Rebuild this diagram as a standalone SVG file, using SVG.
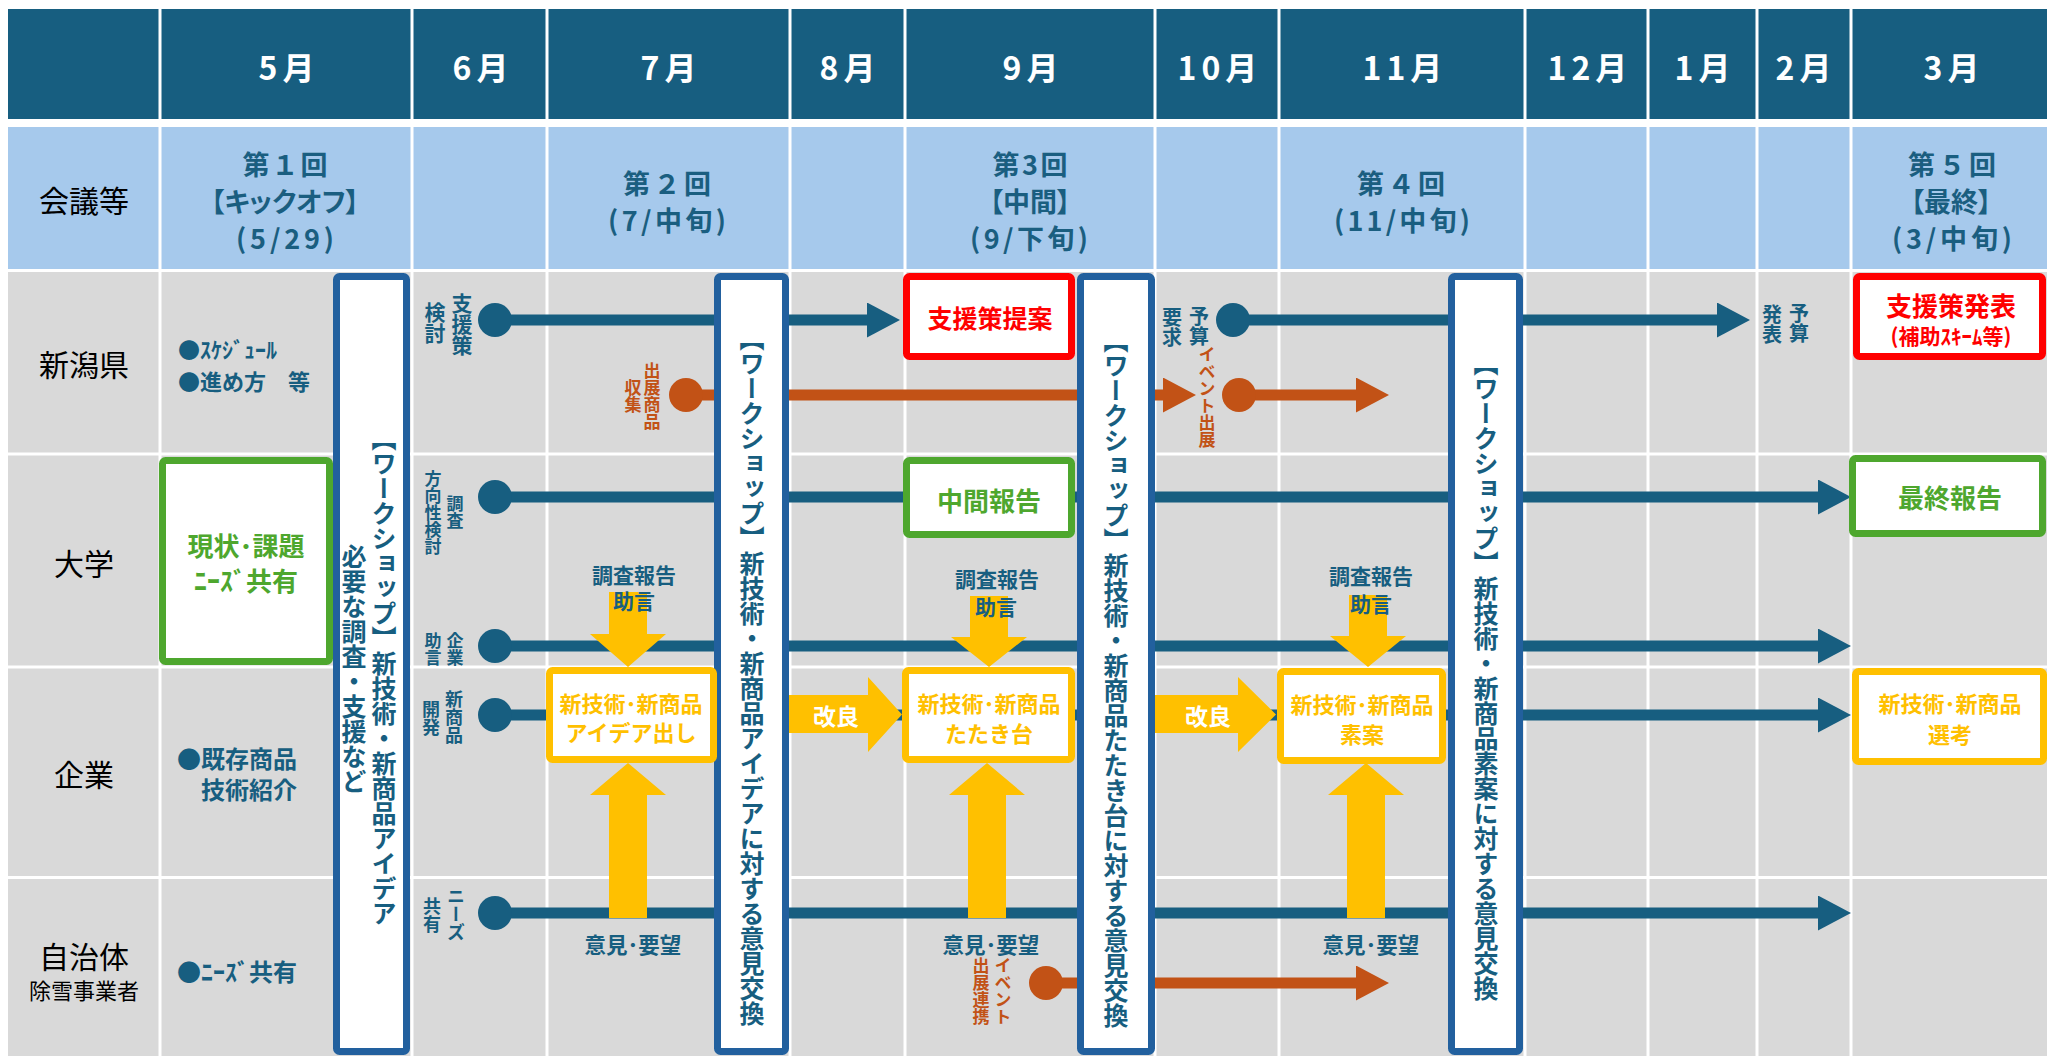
<svg xmlns="http://www.w3.org/2000/svg" width="2047" height="1056" viewBox="0 0 2047 1056">
<style>
.t{font-family:"Noto Sans CJK JP","Noto Sans CJK SC",sans-serif;dominant-baseline:central;text-anchor:middle}
.st{text-anchor:start}
.b{font-weight:700}
.pa{font-feature-settings:"palt" 1}
.mon{fill:#fff;font-size:32px;font-weight:700;letter-spacing:5px}
.conf{fill:#1A5E80;font-size:27px;font-weight:700}
.lab{fill:#000;font-size:30px;font-weight:400}
.tx{fill:#175E80}
.ox{fill:#C25216}
.v{writing-mode:vertical-rl}
.ws{fill:#fff;stroke:#22609E;stroke-width:7}
.wst{fill:#175E80;font-size:25px;font-weight:700}
.red{fill:#fff;stroke:#FF0000;stroke-width:7}
.grn{fill:#fff;stroke:#4EA72E;stroke-width:7}
.ylw{fill:#fff;stroke:#FFC000;stroke-width:7}
.tl{stroke:#175E80;stroke-width:11;fill:none}
.ol{stroke:#C25216;stroke-width:11;fill:none}
.yf{fill:#FFC000}
.gl{stroke:#fff;stroke-width:3}
</style>
<defs>
<marker id="ahT" markerUnits="userSpaceOnUse" markerWidth="33" markerHeight="35" viewBox="0 0 33 35" refX="0" refY="17.5" orient="auto"><path d="M0,0 L33,17.5 L0,35 z" fill="#175E80"/></marker>
<marker id="ahO" markerUnits="userSpaceOnUse" markerWidth="33" markerHeight="35" viewBox="0 0 33 35" refX="0" refY="17.5" orient="auto"><path d="M0,0 L33,17.5 L0,35 z" fill="#C25216"/></marker>
<marker id="dotT" markerUnits="userSpaceOnUse" markerWidth="36" markerHeight="36" viewBox="0 0 36 36" refX="18" refY="18"><circle cx="18" cy="18" r="17" fill="#175E80"/></marker>
<marker id="dotO" markerUnits="userSpaceOnUse" markerWidth="36" markerHeight="36" viewBox="0 0 36 36" refX="18" refY="18"><circle cx="18" cy="18" r="17" fill="#C25216"/></marker>
</defs>
<rect width="2047" height="1056" fill="#fff"/>
<g id="grid">
<rect x="8" y="9" width="2039" height="110" fill="#175E80"/>
<rect x="8" y="127" width="2039" height="142" fill="#A6C9EC"/>
<rect x="8" y="272" width="2039" height="784" fill="#D9D9D9"/>
<line class="gl" x1="8" y1="454" x2="2047" y2="454"/>
<line class="gl" x1="8" y1="667" x2="2047" y2="667"/>
<line class="gl" x1="8" y1="877.5" x2="2047" y2="877.5"/>
<line class="gl" x1="8" y1="270.5" x2="2047" y2="270.5"/>
<g class="gl">
<line x1="160" y1="9" x2="160" y2="1056"/><line x1="412" y1="9" x2="412" y2="1056"/><line x1="547" y1="9" x2="547" y2="1056"/><line x1="790" y1="9" x2="790" y2="1056"/><line x1="905" y1="9" x2="905" y2="1056"/><line x1="1155" y1="9" x2="1155" y2="1056"/><line x1="1279" y1="9" x2="1279" y2="1056"/><line x1="1525" y1="9" x2="1525" y2="1056"/><line x1="1648" y1="9" x2="1648" y2="1056"/><line x1="1757" y1="9" x2="1757" y2="1056"/><line x1="1851" y1="9" x2="1851" y2="1056"/>
</g>
</g>
<g id="header">
<text class="t mon" x="289" y="66">5月</text>
<text class="t mon" x="483" y="66">6月</text>
<text class="t mon" x="671" y="66">7月</text>
<text class="t mon" x="850" y="66">8月</text>
<text class="t mon" x="1033" y="66">9月</text>
<text class="t mon" x="1220" y="66">10月</text>
<text class="t mon" x="1405" y="66">11月</text>
<text class="t mon" x="1590" y="66">12月</text>
<text class="t mon" x="1705" y="66">1月</text>
<text class="t mon" x="1806" y="66">2月</text>
<text class="t mon" x="1954" y="66">3月</text>
</g>
<g id="meetings">
<text class="t conf" x="285" y="163" textLength="85" lengthAdjust="spacing">第１回</text>
<text class="t conf pa" x="285" y="200">【キックオフ】</text>
<text class="t conf" x="285" y="237" textLength="98" lengthAdjust="spacing">(5/29)</text>
<text class="t conf" x="667" y="182" textLength="88" lengthAdjust="spacing">第２回</text>
<text class="t conf" x="667" y="219" textLength="118" lengthAdjust="spacing">(7/中旬)</text>
<text class="t conf" x="1030" y="163" textLength="75" lengthAdjust="spacing">第3回</text>
<text class="t conf pa" x="1030" y="200">【中間】</text>
<text class="t conf" x="1029" y="237" textLength="118" lengthAdjust="spacing">(9/下旬)</text>
<text class="t conf" x="1401" y="182" textLength="88" lengthAdjust="spacing">第４回</text>
<text class="t conf" x="1402" y="219" textLength="136" lengthAdjust="spacing">(11/中旬)</text>
<text class="t conf" x="1952" y="163" textLength="88" lengthAdjust="spacing">第５回</text>
<text class="t conf pa" x="1951" y="200">【最終】</text>
<text class="t conf" x="1952" y="237" textLength="120" lengthAdjust="spacing">(3/中旬)</text>
</g>
<g id="row-labels">
<text class="t lab" x="84" y="199">会議等</text>
<text class="t lab" x="84" y="363">新潟県</text>
<text class="t lab" x="84" y="562">大学</text>
<text class="t lab" x="84" y="773">企業</text>
<text class="t lab" x="84" y="955">自治体</text>
<text class="t lab" x="84" y="989" style="font-size:22px">除雪事業者</text>
</g>
<g id="may-notes" class="tx">
<text class="t st b" x="178" y="348" style="font-size:22px">●ｽｹｼﾞｭｰﾙ</text>
<text class="t st b" x="178" y="380" style="font-size:22px">●進め方　等</text>
<text class="t st b" x="177" y="757" style="font-size:24px">●既存商品</text>
<text class="t st b" x="201" y="788" style="font-size:24px">技術紹介</text>
<text class="t st b" x="177" y="970" style="font-size:24px">●ﾆｰｽﾞ共有</text>
</g>
<g id="connectors">
<line class="tl" x1="495" y1="320" x2="867" y2="320" marker-start="url(#dotT)" marker-end="url(#ahT)"/>
<line class="tl" x1="1233" y1="320" x2="1717" y2="320" marker-start="url(#dotT)" marker-end="url(#ahT)"/>
<line class="tl" x1="495" y1="497" x2="1818" y2="497" marker-start="url(#dotT)" marker-end="url(#ahT)"/>
<line class="tl" x1="495" y1="646" x2="1818" y2="646" marker-start="url(#dotT)" marker-end="url(#ahT)"/>
<line class="tl" x1="495" y1="715" x2="1818" y2="715" marker-start="url(#dotT)" marker-end="url(#ahT)"/>
<line class="tl" x1="495" y1="913" x2="1818" y2="913" marker-start="url(#dotT)" marker-end="url(#ahT)"/>
<line class="ol" x1="686" y1="395" x2="1163" y2="395" marker-start="url(#dotO)" marker-end="url(#ahO)"/>
<line class="ol" x1="1239" y1="395" x2="1356" y2="395" marker-start="url(#dotO)" marker-end="url(#ahO)"/>
<line class="ol" x1="1046" y1="983" x2="1356" y2="983" marker-start="url(#dotO)" marker-end="url(#ahO)"/>
<g class="yf">
<polygon points="609,592 647,592 647,634 666,634 628,667 590,634 609,634"/>
<polygon points="970,596 1008,596 1008,637 1027,637 989,667 951,637 970,637"/>
<polygon points="1349,595 1387,595 1387,636 1406,636 1368,667 1330,636 1349,636"/>
<polygon points="609,918 647,918 647,795 666,795 628,763 590,795 609,795"/>
<polygon points="968,918 1006,918 1006,795 1025,795 987,763 949,795 968,795"/>
<polygon points="1347,918 1385,918 1385,795 1404,795 1366,763 1328,795 1347,795"/>
<polygon points="786,695 868,695 868,677 902,714.5 868,752 868,733 786,733"/>
<polygon points="1152,695 1238,695 1238,677 1276,714.5 1238,752 1238,733 1152,733"/>
</g>
</g>
<g id="connector-labels">
<g class="tx b">
<text class="t v" x="462" y="324" style="font-size:21px">支援策</text>
<text class="t v" x="435" y="323" style="font-size:21px">検討</text>
<text class="t v" x="1199" y="326" style="font-size:20px">予算</text>
<text class="t v" x="1172" y="327" style="font-size:20px">要求</text>
<text class="t v" x="1799" y="323" style="font-size:20px">予算</text>
<text class="t v" x="1772" y="324" style="font-size:20px">発表</text>
<text class="t v" x="455" y="512" style="font-size:17px">調査</text>
<text class="t v" x="433" y="513" style="font-size:17px">方向性検討</text>
<text class="t v" x="455" y="649" style="font-size:17px">企業</text>
<text class="t v" x="433" y="649" style="font-size:17px">助言</text>
<text class="t v" x="454" y="717" style="font-size:18px">新商品</text>
<text class="t v" x="431" y="718" style="font-size:18px">開発</text>
<text class="t v" x="456" y="914" style="font-size:18px">ニーズ</text>
<text class="t v" x="432" y="915" style="font-size:18px">共有</text>
<text class="t" x="634" y="574" style="font-size:21px">調査報告</text>
<text class="t" x="634" y="600" style="font-size:21px">助言</text>
<text class="t" x="997" y="578" style="font-size:21px">調査報告</text>
<text class="t" x="996" y="606" style="font-size:21px">助言</text>
<text class="t" x="1371" y="575" style="font-size:21px">調査報告</text>
<text class="t" x="1371" y="603" style="font-size:21px">助言</text>
<text class="t" x="633" y="943" style="font-size:21.5px">意見･要望</text>
<text class="t" x="991" y="943" style="font-size:21.5px">意見･要望</text>
<text class="t" x="1371" y="943" style="font-size:21.5px">意見･要望</text>
</g>
<g class="ox b">
<text class="t v" x="652" y="396" style="font-size:17px">出展商品</text>
<text class="t v" x="633" y="396" style="font-size:17px">収集</text>
<text class="t v" x="1207" y="397" style="font-size:17px">イベント出展</text>
<text class="t v" x="1003" y="991" style="font-size:17px">イベント</text>
<text class="t v" x="981" y="991" style="font-size:17px">出展連携</text>
</g>
<g fill="#fff" class="b">
<text class="t" x="836" y="715" style="font-size:23px">改良</text>
<text class="t" x="1208" y="715" style="font-size:23px">改良</text>
</g>
</g>
<g id="ws1">
<rect class="ws" x="336.5" y="276.5" width="70" height="775" rx="3"/>
<text class="t v wst" x="384" y="676">【ワークショップ】新技術・新商品アイデア</text>
<text class="t v wst" x="354" y="669">必要な調査・支援など</text>
</g>
<g id="ws2">
<rect class="ws" x="717.5" y="276.5" width="68" height="775" rx="3"/>
<text class="t v wst" x="752" y="676">【ワークショップ】新技術・新商品アイデアに対する意見交換</text>
</g>
<g id="ws3">
<rect class="ws" x="1080.5" y="276.5" width="71" height="775" rx="3"/>
<text class="t v wst" x="1116" y="678">【ワークショップ】新技術・新商品たたき台に対する意見交換</text>
</g>
<g id="ws4">
<rect class="ws" x="1451.5" y="276.5" width="68" height="775" rx="3"/>
<text class="t v wst" x="1486" y="676">【ワークショップ】新技術・新商品素案に対する意見交換</text>
</g>
<g id="shienteian">
<rect class="red" x="906.5" y="276.5" width="165" height="80" rx="3"/>
<text class="t b" x="990" y="317" fill="#FF0000" style="font-size:25px">支援策提案</text>
</g>
<g id="shienhappyo">
<rect class="red" x="1856.5" y="276.5" width="186" height="80" rx="3"/>
<text class="t b" x="1951" y="304" fill="#FF0000" style="font-size:26px">支援策発表</text>
<text class="t b" x="1951" y="335" fill="#FF0000" style="font-size:21px">(補助ｽｷｰﾑ等)</text>
</g>
<g id="genjo">
<rect class="grn" x="162.5" y="460.5" width="167" height="201" rx="3"/>
<text class="t b" x="246" y="544" fill="#4EA72E" style="font-size:26px">現状･課題</text>
<text class="t b" x="246" y="579" fill="#4EA72E" style="font-size:26px">ﾆｰｽﾞ共有</text>
</g>
<g id="chukan">
<rect class="grn" x="906.5" y="460.5" width="165" height="74" rx="3"/>
<text class="t b" x="989" y="499" fill="#4EA72E" style="font-size:26px">中間報告</text>
</g>
<g id="saishu">
<rect class="grn" x="1852.5" y="458.5" width="190" height="75" rx="3"/>
<text class="t b" x="1950" y="496" fill="#4EA72E" style="font-size:26px">最終報告</text>
</g>
<g id="idea">
<rect class="ylw" x="549.5" y="670.5" width="164" height="89" rx="3"/>
<text class="t b yf" x="631" y="702" style="font-size:22px">新技術･新商品</text>
<text class="t b yf" x="631" y="731" style="font-size:22px">アイデア出し</text>
</g>
<g id="tataki">
<rect class="ylw" x="905.5" y="670.5" width="166" height="89" rx="3"/>
<text class="t b yf" x="989" y="702" style="font-size:22px">新技術･新商品</text>
<text class="t b yf" x="989" y="732" style="font-size:22px">たたき台</text>
</g>
<g id="soan">
<rect class="ylw" x="1280.5" y="671.5" width="162" height="89" rx="3"/>
<text class="t b yf" x="1362" y="703" style="font-size:22px">新技術･新商品</text>
<text class="t b yf" x="1362" y="733" style="font-size:22px">素案</text>
</g>
<g id="senko">
<rect class="ylw" x="1855.5" y="671.5" width="188" height="90" rx="3"/>
<text class="t b yf" x="1950" y="702" style="font-size:22px">新技術･新商品</text>
<text class="t b yf" x="1950" y="733" style="font-size:22px">選考</text>
</g>
</svg>
